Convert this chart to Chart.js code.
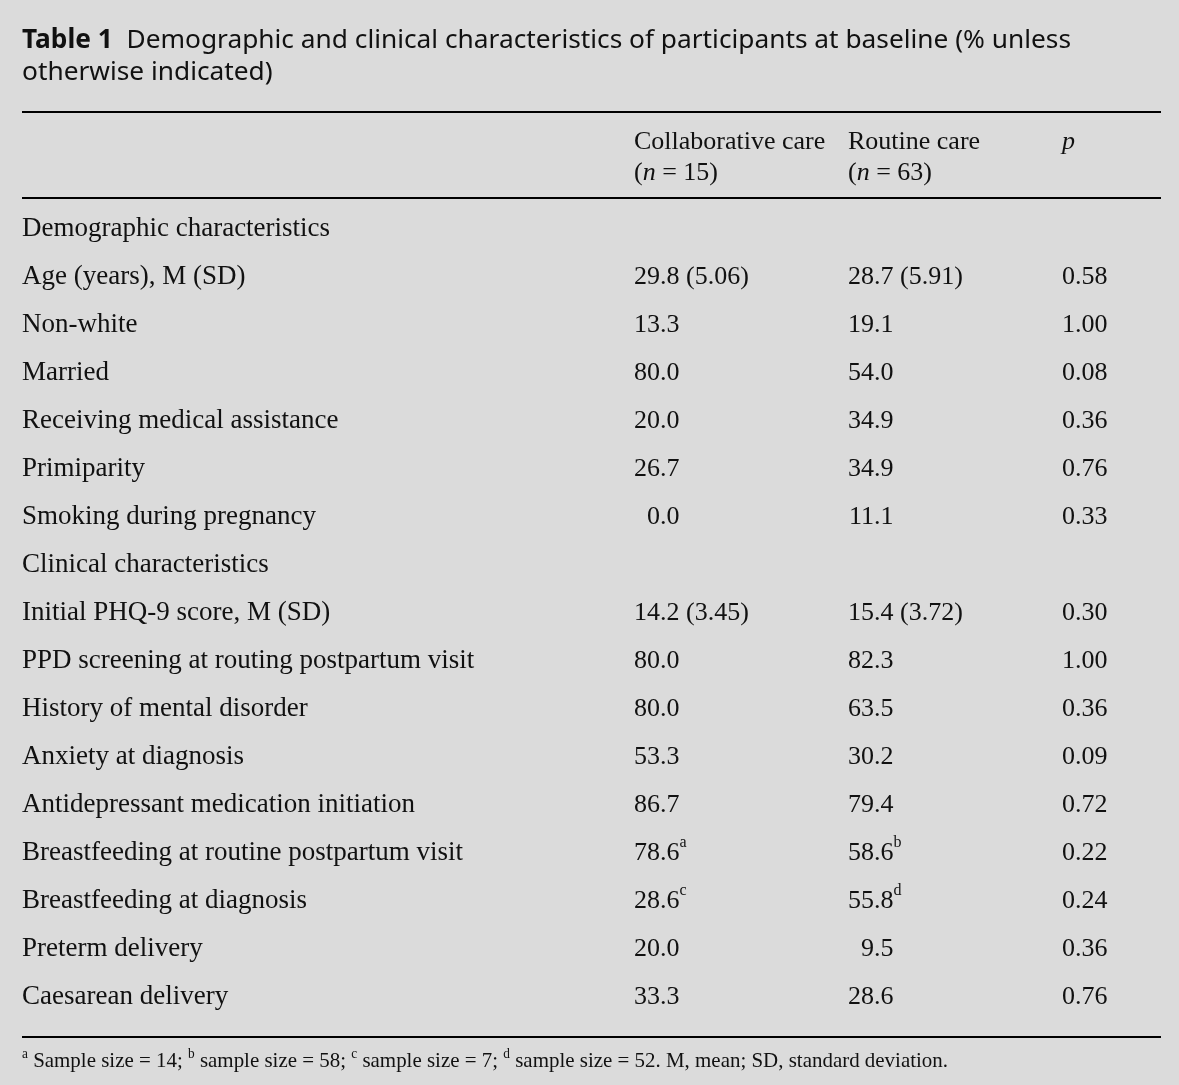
<!DOCTYPE html>
<html>
<head>
<meta charset="utf-8">
<script src="https://cdn.jsdelivr.net/npm/chart.js@4.4.1/dist/chart.umd.min.js"></script>
<style>
  body { margin: 0; background: #dbdbdb; }
  #wrap { width: 1179px; height: 1085px; }
</style>
</head>
<body>
<div id="wrap"><canvas id="myChart" width="1179" height="1085"></canvas></div>
<script>
var ctx = document.getElementById('myChart').getContext('2d');

// table contents
const rowLabels = [
  'Demographic characteristics',
  'Age (years), M (SD)',
  'Non-white',
  'Married',
  'Receiving medical assistance',
  'Primiparity',
  'Smoking during pregnancy',
  'Clinical characteristics',
  'Initial PHQ-9 score, M (SD)',
  'PPD screening at routing postpartum visit',
  'History of mental disorder',
  'Anxiety at diagnosis',
  'Antidepressant medication initiation',
  'Breastfeeding at routine postpartum visit',
  'Breastfeeding at diagnosis',
  'Preterm delivery',
  'Caesarean delivery'
]
const collab   = [null, 29.8, 13.3, 80.0, 20.0, 26.7, 0.0, null, 14.2, 80.0, 80.0, 53.3, 86.7, 78.6, 28.6, 20.0, 33.3]
const collabSD = [null, 5.06, null, null, null, null, null, null, 3.45, null, null, null, null, null, null, null, null]
const collabSup = [null, null, null, null, null, null, null, null, null, null, null, null, null, 'a', 'c', null, null]
const routine  = [null, 28.7, 19.1, 54.0, 34.9, 34.9, 11.1, null, 15.4, 82.3, 63.5, 30.2, 79.4, 58.6, 55.8, 9.5, 28.6]
const routineSD = [null, 5.91, null, null, null, null, null, null, 3.72, null, null, null, null, null, null, null, null]
const routineSup = [null, null, null, null, null, null, null, null, null, null, null, null, null, 'b', 'd', null, null]
const pValues  = [null, 0.58, 1.00, 0.08, 0.36, 0.76, 0.33, null, 0.30, 1.00, 0.36, 0.09, 0.72, 0.22, 0.24, 0.36, 0.76]
const colHeads = [['Collaborative care', 15], ['Routine care', 63]]

const SERIF = '"Liberation Serif", "DejaVu Serif", serif'
const SANS = '"Noto Sans", "Open Sans", sans-serif'
const BODY = '26px ' + SERIF
const LABEL = '27px ' + SERIF
const colX = [0, 612, 826, 1040]   // offsets from chart left

function drawRuns(c, runs, x, y) {
  runs.forEach(r => {
    c.font = r.font
    c.fillText(r.t, x, y + (r.dy || 0))
    x += c.measureText(r.t).width
  })
  return x
}

function runsWidth(c, runs) {
  let w = 0
  runs.forEach(r => { c.font = r.font; w += c.measureText(r.t).width })
  return w
}

// decimal-aligned number: integer part right edge at x + width of "00"
function drawNum(c, txt, sup, x, y) {
  c.font = BODY
  const intPart = txt.split('.')[0]
  const start = x + c.measureText('00').width - c.measureText(intPart).width
  const runs = [{ t: txt, font: BODY }]
  if (sup) runs.push({ t: sup, font: '16px ' + SERIF, dy: -10 })
  drawRuns(c, runs, start, y)
}

const tablePlugin = {
  id: 'tablePlugin',
  beforeDraw(chart) {
    const c = chart.ctx
    c.save()
    c.fillStyle = '#dbdbdb'
    c.fillRect(0, 0, chart.width, chart.height)
    c.restore()
  },
  afterDatasetsDraw(chart) {
    const c = chart.ctx
    const area = chart.chartArea
    c.save()
    c.fillStyle = '#111'

    // title, fitted to the reference line length
    c.textBaseline = 'alphabetic'
    const t1 = [
      { t: 'Table 1', font: 'bold 26px ' + SANS },
      { t: '  Demographic and clinical characteristics of participants at baseline (% unless', font: '26px ' + SANS }
    ]
    const k = 1049 / runsWidth(c, t1)
    c.save()
    c.translate(area.left, 48)
    c.scale(k, 1)
    drawRuns(c, t1, 0, 0)
    drawRuns(c, [{ t: 'otherwise indicated)', font: '26px ' + SANS }], 0, 32)
    c.restore()

    // rules
    c.strokeStyle = '#000'
    c.lineWidth = 2
    ;[area.top - 93, area.top - 7, area.bottom + 16].forEach(y => {
      c.beginPath()
      c.moveTo(area.left, y)
      c.lineTo(area.right, y)
      c.stroke()
    })

    // column headers
    c.textBaseline = 'middle'
    colHeads.forEach((h, i) => {
      const x = area.left + colX[i + 1]
      drawRuns(c, [{ t: h[0], font: BODY }], x, area.top - 63)
      drawRuns(c, [
        { t: '(', font: BODY },
        { t: 'n', font: 'italic ' + BODY },
        { t: ' = ' + h[1] + ')', font: BODY }
      ], x, area.top - 32)
    })
    drawRuns(c, [{ t: 'p', font: 'italic ' + BODY }], area.left + colX[3], area.top - 63)

    // body cells, positioned by the y scale
    chart.data.datasets.forEach((ds, di) => {
      const meta = chart.getDatasetMeta(di)
      meta.data.forEach((el, j) => {
        const raw = ds.data[j]
        const y = el.y
        const x = area.left + colX[raw.x]
        if (raw.x === 0) {
          drawRuns(c, [{ t: raw.text, font: LABEL }], x, y)
        } else if (raw.x === 3) {
          drawRuns(c, [{ t: raw.text, font: BODY }], x, y)
        } else {
          drawNum(c, raw.text, raw.sup, x, y)
        }
      })
    })

    // footnote, condensed to the reference width
    c.textBaseline = 'middle'
    const fn = '22px ' + SERIF
    const sp = '14px ' + SERIF
    const fnRuns = [
      { t: 'a', font: sp, dy: -7 }, { t: ' Sample size = 14; ', font: fn },
      { t: 'b', font: sp, dy: -7 }, { t: ' sample size = 58; ', font: fn },
      { t: 'c', font: sp, dy: -7 }, { t: ' sample size = 7; ', font: fn },
      { t: 'd', font: sp, dy: -7 }, { t: ' sample size = 52. M, mean; SD, standard deviation.', font: fn }
    ]
    const kf = 926 / runsWidth(c, fnRuns)
    c.save()
    c.translate(area.left, area.bottom + 40)
    c.scale(kf, 1)
    drawRuns(c, fnRuns, 0, 0)
    c.restore()
    c.restore()
  }
}

function fmtCell(v, sd) {
  if (v === null) return null
  let s = v.toFixed(1)
  if (sd !== null) s += ' (' + sd.toFixed(2) + ')'
  return s
}

const labelPts = rowLabels.map((t, i) => ({ x: 0, y: i, text: t }))
const collabPts = [], routinePts = [], pPts = []
rowLabels.forEach((t, i) => {
  if (collab[i] !== null) collabPts.push({ x: 1, y: i, text: fmtCell(collab[i], collabSD[i]), sup: collabSup[i] })
  if (routine[i] !== null) routinePts.push({ x: 2, y: i, text: fmtCell(routine[i], routineSD[i]), sup: routineSup[i] })
  if (pValues[i] !== null) pPts.push({ x: 3, y: i, text: pValues[i].toFixed(2) })
})

new Chart(ctx, {
  type: 'scatter',
  data: {
    datasets: [
      { label: 'Characteristic', data: labelPts, pointRadius: 0 },
      { label: 'Collaborative care', data: collabPts, pointRadius: 0 },
      { label: 'Routine care', data: routinePts, pointRadius: 0 },
      { label: 'p', data: pPts, pointRadius: 0 }
    ]
  },
  options: {
    responsive: false,
    animation: false,
    events: [],
    layout: { padding: { left: 22, right: 18, top: 205, bottom: 64 } },
    plugins: { legend: { display: false }, tooltip: { enabled: false } },
    scales: {
      x: { type: 'linear', min: 0, max: 3, display: false },
      y: { type: 'linear', min: -0.5, max: 16.5, reverse: true, display: false }
    }
  },
  plugins: [tablePlugin]
})
</script>
</body>
</html>
